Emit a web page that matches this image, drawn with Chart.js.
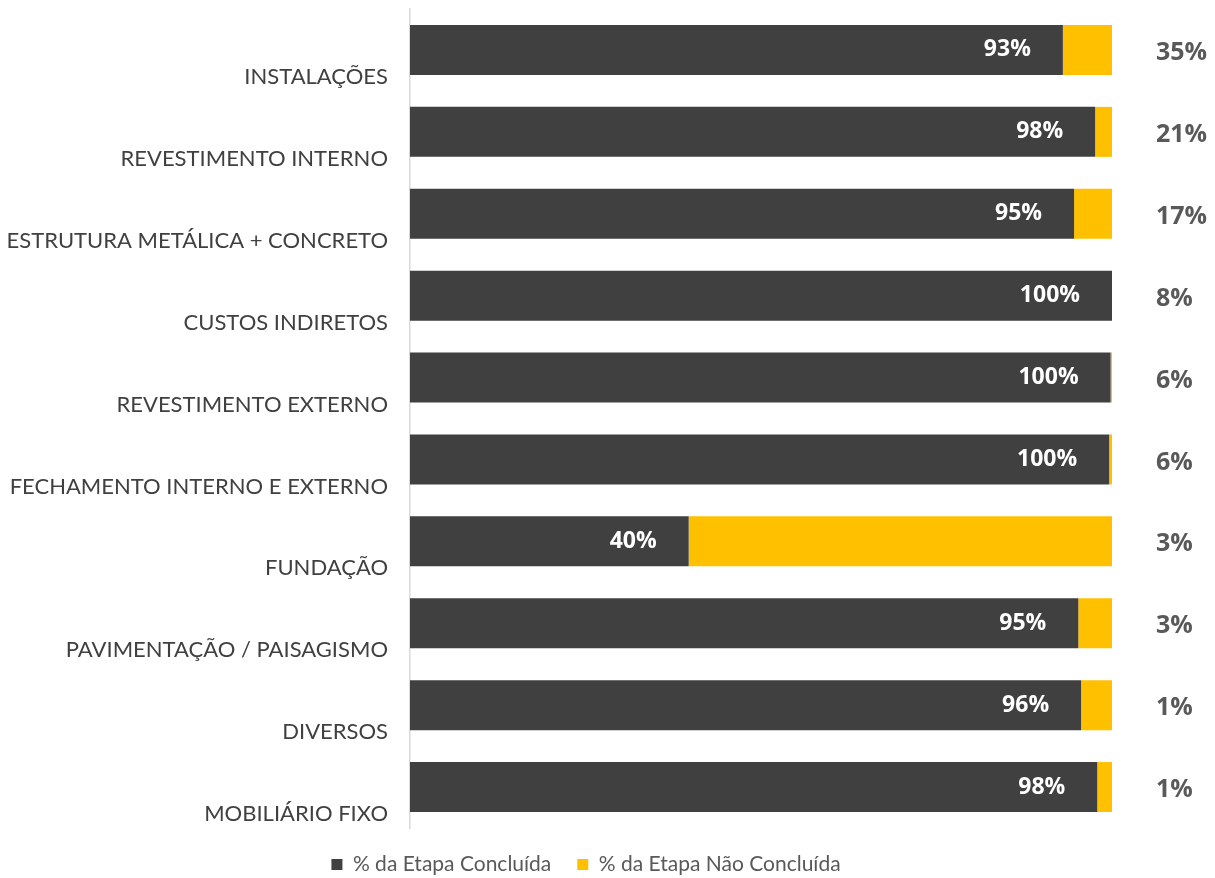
<!DOCTYPE html>
<html>
<head>
<meta charset="utf-8">
<script src="https://cdn.jsdelivr.net/npm/chart.js@4/dist/chart.umd.min.js"></script>
<style>
  body { margin: 0; background: #fff; }
  #wrap { width: 1215px; height: 878px; }
</style>
</head>
<body>
<div id="wrap"><canvas id="myChart"></canvas></div>
<script>
const etapas = [
  'INSTALAÇÕES',
  'REVESTIMENTO INTERNO',
  'ESTRUTURA METÁLICA + CONCRETO',
  'CUSTOS INDIRETOS',
  'REVESTIMENTO EXTERNO',
  'FECHAMENTO INTERNO E EXTERNO',
  'FUNDAÇÃO',
  'PAVIMENTAÇÃO / PAISAGISMO',
  'DIVERSOS',
  'MOBILIÁRIO FIXO'
];
const concluida = [93, 97.6, 94.6, 100, 99.8, 99.6, 39.7, 95.2, 95.6, 97.9];
const naoConcluida = [7, 2.4, 5.4, 0, 0.2, 0.4, 60.3, 4.8, 4.4, 2.1];
const pesoEtapa = [35, 21, 17, 8, 6, 6, 3, 3, 1, 1];

// white % labels inside the dark bars + weights on the right
const labelsPlugin = {
  id: 'barLabels',
  afterLayout(chart) {
    // legend sits a bit right of the centre in the original
    chart.legend.left += 30;
    chart.legend.right += 30;
  },
  afterDatasetsDraw(chart) {
    const ctx = chart.ctx;
    const meta = chart.getDatasetMeta(0);
    ctx.save();
    ctx.font = 'bold 23px "Open Sans", sans-serif';
    ctx.fillStyle = '#ffffff';
    ctx.textAlign = 'right';
    ctx.textBaseline = 'middle';
    meta.data.forEach((bar, i) => {
      ctx.fillText(Math.round(concluida[i]) + '%', bar.x - 32, bar.y);
    });
    ctx.font = 'bold 25px "Open Sans", sans-serif';
    ctx.fillStyle = '#595959';
    ctx.textAlign = 'left';
    meta.data.forEach((bar, i) => {
      ctx.fillText(pesoEtapa[i] + '%', chart.chartArea.right + 44, bar.y + 3);
    });
    ctx.restore();
  }
};

new Chart(document.getElementById('myChart').getContext('2d'), {
  type: 'bar',
  data: {
    labels: etapas,
    datasets: [
      {
        label: '% da Etapa Concluída',
        data: concluida,
        backgroundColor: '#404040',
        barPercentage: 0.61,
        categoryPercentage: 1
      },
      {
        label: '% da Etapa Não Concluída',
        data: naoConcluida,
        backgroundColor: '#FFC000',
        barPercentage: 0.61,
        categoryPercentage: 1
      }
    ]
  },
  options: {
    indexAxis: 'y',
    responsive: true,
    maintainAspectRatio: false,
    animation: false,
    layout: { padding: { top: 9, right: 103, bottom: -7, left: 0 } },
    scales: {
      x: {
        stacked: true,
        min: 0,
        max: 100,
        display: false
      },
      y: {
        stacked: true,
        grid: { display: false, drawTicks: false },
        border: { display: true, color: '#d9d9d9', width: 1.5 },
        ticks: {
          color: '#404040',
          font: { family: 'Lato, sans-serif', size: 22 },
          padding: 22,
          labelOffset: 27
        },
        afterFit(scale) {
          scale.width = 410;
          scale.paddingTop = 0;
          scale.paddingBottom = 0;
        }
      }
    },
    plugins: {
      legend: {
        position: 'bottom',
        labels: {
          color: '#595959',
          font: { family: 'Lato, sans-serif', size: 21 },
          boxWidth: 11,
          boxHeight: 11,
          padding: 26
        }
      },
      tooltip: { enabled: false }
    }
  },
  plugins: [labelsPlugin]
});
</script>
</body>
</html>
